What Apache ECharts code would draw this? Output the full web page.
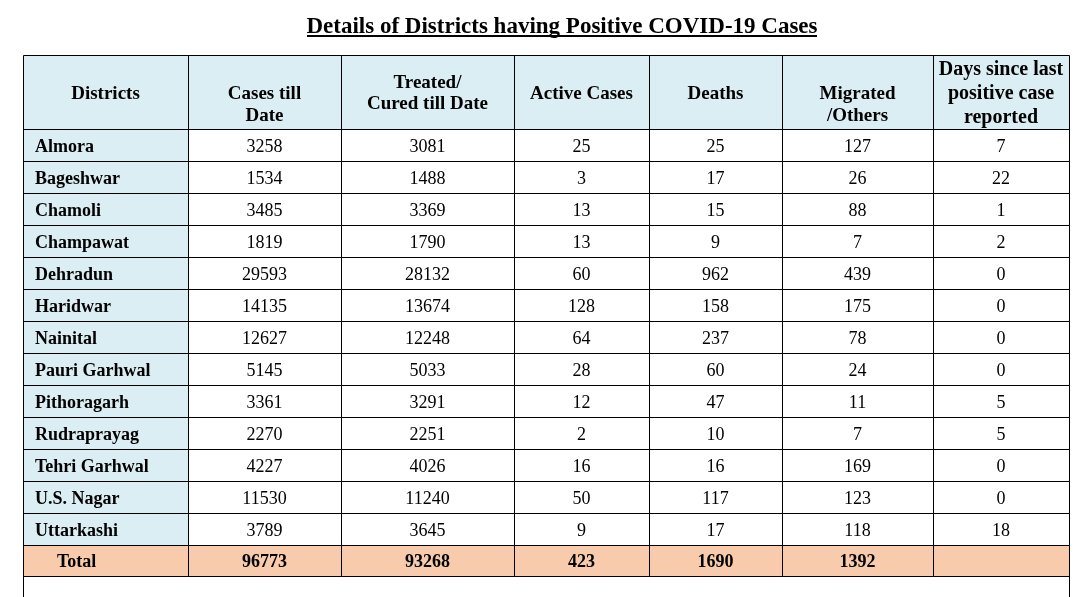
<!DOCTYPE html>
<html>
<head>
<meta charset="utf-8">
<title>Details of Districts having Positive COVID-19 Cases</title>
<script src="https://cdn.jsdelivr.net/npm/echarts@6/dist/echarts.min.js"></script>
<style>
html, body { margin: 0; padding: 0; background: #fff; }
#chart { width: 1077px; height: 597px; }
</style>
</head>
<body>
<div id="chart"></div>
<script>
// table contents
const titleText = 'Details of Districts having Positive COVID-19 Cases'
const headers = ['Districts', '\nCases till\nDate', 'Treated/\nCured till Date', 'Active Cases', 'Deaths', '\nMigrated\n/Others', 'Days since last\npositive case\nreported']
const districts = ['Almora', 'Bageshwar', 'Chamoli', 'Champawat', 'Dehradun', 'Haridwar', 'Nainital', 'Pauri Garhwal', 'Pithoragarh', 'Rudraprayag', 'Tehri Garhwal', 'U.S. Nagar', 'Uttarkashi']
const casesTillDate = [3258, 1534, 3485, 1819, 29593, 14135, 12627, 5145, 3361, 2270, 4227, 11530, 3789]
const treatedCured = [3081, 1488, 3369, 1790, 28132, 13674, 12248, 5033, 3291, 2251, 4026, 11240, 3645]
const activeCases = [25, 3, 13, 13, 60, 128, 64, 28, 12, 2, 16, 50, 9]
const deaths = [25, 17, 15, 9, 962, 158, 237, 60, 47, 10, 16, 117, 17]
const migratedOthers = [127, 26, 88, 7, 439, 175, 78, 24, 11, 7, 169, 123, 118]
const daysSinceLast = [7, 22, 1, 2, 0, 0, 0, 0, 5, 5, 0, 0, 18]
const totalLabel = 'Total'
const totals = [96773, 93268, 423, 1690, 1392, '']

const columns = [casesTillDate, treatedCured, activeCases, deaths, migratedOthers, daysSinceLast]

// layout (px units on the hidden axes)
const colWidths = [165, 153, 173, 135, 133, 151, 136]
const headerHeight = 74
const rowHeight = 32
const totalHeight = 31
const tailHeight = 21
const headerLineHeights = [22, 22, 21, 22, 22, 22, 24]

const colEdges = [0]
colWidths.forEach(w => colEdges.push(colEdges[colEdges.length - 1] + w))
const rowHeights = [headerHeight].concat(districts.map(() => rowHeight), [totalHeight])
const rowEdges = [0]
rowHeights.forEach(h => rowEdges.push(rowEdges[rowEdges.length - 1] + h))
const tableWidth = colEdges[colEdges.length - 1]
const tableHeight = rowEdges[rowEdges.length - 1] + tailHeight
const totalRow = rowHeights.length - 1

const SERIF = '"Liberation Serif", "Times New Roman", serif'
const BLUE = '#daeef3'
const PEACH = '#f8cbad'

const cells = []
for (let r = 0; r < rowHeights.length; r++) {
  for (let c = 0; c < colWidths.length; c++) cells.push([c, r])
}

function cellText(c, r) {
  if (r === 0) return headers[c]
  if (r === totalRow) return c === 0 ? totalLabel : String(totals[c - 1])
  return c === 0 ? districts[r - 1] : String(columns[c - 1][r - 1])
}

function renderCell(params, api) {
  const c = api.value(0), r = api.value(1)
  const p0 = api.coord([colEdges[c], rowEdges[r]])
  const p1 = api.coord([colEdges[c + 1], rowEdges[r + 1]])
  const x0 = Math.round(p0[0]), y0 = Math.round(p0[1])
  const x1 = Math.round(p1[0]), y1 = Math.round(p1[1])

  let fill = '#fff'
  if (r === 0 || c === 0) fill = BLUE
  if (r === totalRow) fill = PEACH

  const bold = r === 0 || c === 0 || r === totalRow
  let size = 18
  if (r === 0) size = c === 6 ? 20 : 19
  let tx = (x0 + x1) / 2, align = 'center'
  if (c === 0 && r > 0) {
    align = 'left'
    tx = x0 + (r === totalRow ? 34 : 12)
  }

  return {
    type: 'group',
    children: [
      { type: 'rect', shape: { x: x0, y: y0, width: x1 - x0, height: y1 - y0 }, style: { fill: fill } },
      {
        type: 'rect', z2: 10,
        shape: { x: x0 + 0.5, y: y0 + 0.5, width: x1 - x0, height: y1 - y0 },
        style: { fill: null, stroke: '#000', lineWidth: 1 }
      },
      {
        type: 'text', z2: 20,
        style: {
          text: cellText(c, r), x: tx, y: (y0 + y1) / 2 + 2,
          align: align, verticalAlign: 'middle',
          font: (bold ? 'bold ' : '') + size + 'px ' + SERIF,
          lineHeight: r === 0 ? headerLineHeights[c] : size + 4,
          fill: '#000'
        }
      }
    ]
  }
}

// side borders of the row cut off at the bottom edge
function renderTail(params, api) {
  const top = api.coord([0, rowEdges[rowEdges.length - 1]])
  const bot = api.coord([tableWidth, tableHeight])
  const xl = Math.round(top[0]) + 0.5, xr = Math.round(bot[0]) + 0.5
  const style = { stroke: '#000', lineWidth: 1 }
  return {
    type: 'group',
    children: [
      { type: 'line', shape: { x1: xl, y1: top[1], x2: xl, y2: bot[1] }, style: style },
      { type: 'line', shape: { x1: xr, y1: top[1], x2: xr, y2: bot[1] }, style: style }
    ]
  }
}

const chart = echarts.init(document.getElementById('chart'), null, { renderer: 'canvas' })
chart.setOption({
  animation: false,
  backgroundColor: '#fff',
  graphic: [
    {
      type: 'text', x: 562, y: 27,
      style: { text: titleText, align: 'center', verticalAlign: 'middle', font: 'bold 23px ' + SERIF, fill: '#000' }
    },
    { type: 'rect', shape: { x: 307, y: 35, width: 510, height: 2 }, style: { fill: '#000' } }
  ],
  grid: { left: 23, top: 55, width: tableWidth, height: tableHeight },
  xAxis: { type: 'value', min: 0, max: tableWidth, show: false },
  yAxis: { type: 'value', min: 0, max: tableHeight, inverse: true, show: false },
  series: [
    { type: 'custom', name: 'cells', renderItem: renderCell, data: cells, clip: false, silent: true },
    { type: 'custom', name: 'tail', renderItem: renderTail, data: [[0, 0]], clip: false, silent: true }
  ]
})
</script>
</body>
</html>
